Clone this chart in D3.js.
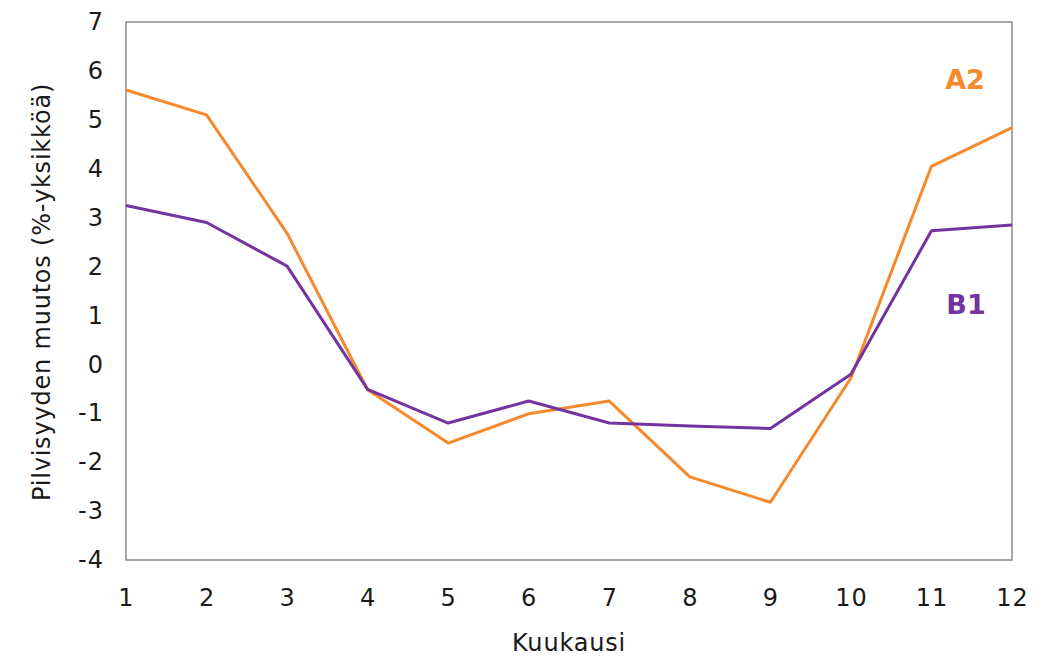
<!DOCTYPE html>
<html>
<head>
<meta charset="utf-8">
<script src="https://cdn.jsdelivr.net/npm/d3@7"></script>
<style>
  body { margin: 0; background: #fff; }
  svg { display: block; font-family: "DejaVu Sans", Verdana, sans-serif; }
</style>
</head>
<body>
<svg id="chart" width="1043" height="659"></svg>
<script>
const months = [1, 2, 3, 4, 5, 6, 7, 8, 9, 10, 11, 12];
const a2Values = [5.61, 5.10, 2.68, -0.52, -1.61, -1.01, -0.75, -2.30, -2.82, -0.28, 4.05, 4.84];
const b1Values = [3.25, 2.90, 2.01, -0.51, -1.20, -0.75, -1.20, -1.26, -1.31, -0.20, 2.73, 2.85];
const yTicks = [7, 6, 5, 4, 3, 2, 1, 0, -1, -2, -3, -4];

const svg = d3.select('#chart');
const margin = {left: 126, top: 22, right: 1043 - 1012, bottom: 659 - 560};
const width = 1043 - margin.left - margin.right;
const height = 659 - margin.top - margin.bottom;

const x = d3.scaleLinear().domain([1, 12]).range([margin.left, margin.left + width]);
const y = d3.scaleLinear().domain([-4, 7]).range([margin.top + height, margin.top]);

// plot frame
svg.append('rect')
    .attr('x', margin.left)
    .attr('y', margin.top)
    .attr('width', width)
    .attr('height', height)
    .attr('fill', 'none')
    .attr('stroke', '#8c8c8c')
    .attr('stroke-width', 1.5);

// axes (labels only), plain hyphen for negatives
const yAxis = d3.axisLeft(y).tickValues(yTicks).tickSize(0).tickPadding(22)
    .tickFormat(d => String(d));
svg.append('g')
    .attr('transform', 'translate(' + margin.left + ',0)')
    .call(yAxis)
    .call(g => g.select('.domain').remove())
    .selectAll('text')
    .attr('font-size', 24)
    .attr('letter-spacing', 1)
    .attr('font-family', '"DejaVu Sans", Verdana, sans-serif')
    .attr('fill', '#1a1a1a');

const xAxis = d3.axisBottom(x).tickValues(months).tickSize(0).tickPadding(29)
    .tickFormat(d => String(d));
svg.append('g')
    .attr('transform', 'translate(0,' + (margin.top + height) + ')')
    .call(xAxis)
    .call(g => g.select('.domain').remove())
    .selectAll('text')
    .attr('font-size', 24)
    .attr('letter-spacing', 1)
    .attr('font-family', '"DejaVu Sans", Verdana, sans-serif')
    .attr('fill', '#1a1a1a');

// axis titles
svg.append('text')
    .attr('transform', 'translate(42,' + 292 + ') rotate(-90)')
    .attr('text-anchor', 'middle')
    .attr('dy', '0.35em')
    .attr('font-size', 24)
    .attr('letter-spacing', 0.8)
    .attr('fill', '#1a1a1a')
    .text('Pilvisyyden muutos (%-yksikköä)');

svg.append('text')
    .attr('x', 569)
    .attr('y', 643)
    .attr('text-anchor', 'middle')
    .attr('dy', '0.35em')
    .attr('font-size', 24)
    .attr('letter-spacing', 0.8)
    .attr('fill', '#1a1a1a')
    .text('Kuukausi');

// series
const line = d3.line()
    .x((d, i) => x(months[i]))
    .y(d => y(d));

const series = [
    {name: 'A2', values: a2Values, color: '#f5892b', labelX: 965, labelY: 80},
    {name: 'B1', values: b1Values, color: '#7434a0', labelX: 966, labelY: 305}
];

series.forEach(function(s) {
    svg.append('path')
        .datum(s.values)
        .attr('d', line)
        .attr('fill', 'none')
        .attr('stroke', s.color)
        .attr('stroke-width', 3)
        .attr('stroke-linejoin', 'round');
    svg.append('text')
        .attr('x', s.labelX)
        .attr('y', s.labelY)
        .attr('text-anchor', 'middle')
        .attr('dy', '0.35em')
        .attr('font-size', 27)
        .attr('font-weight', 'bold')
        .attr('fill', s.color)
        .text(s.name);
});
</script>
</body>
</html>
